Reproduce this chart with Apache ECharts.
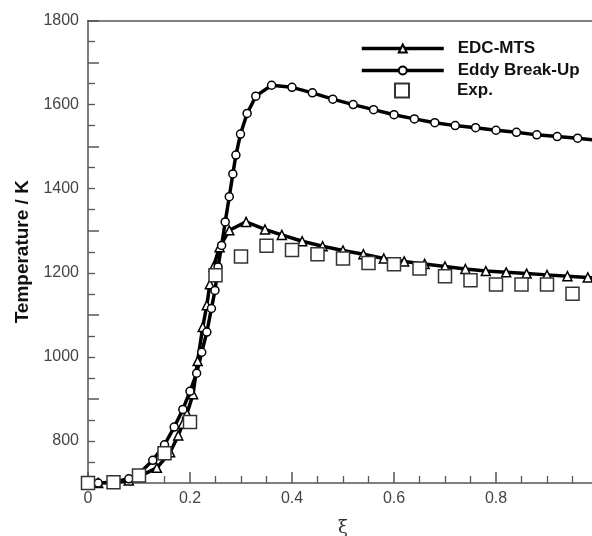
<!DOCTYPE html>
<html><head><meta charset="utf-8">
<script src="https://cdn.jsdelivr.net/npm/echarts@6/dist/echarts.min.js"></script>
<style>html,body{margin:0;padding:0;background:#fff}#c{width:592px;height:536px}</style>
</head><body><div id="c"></div>
<script>
// ---- data ----
const xiEBU = [0, 0.02, 0.05, 0.08, 0.10, 0.127, 0.15, 0.169, 0.186, 0.20, 0.213, 0.223, 0.233, 0.242, 0.249, 0.255, 0.262, 0.269, 0.277, 0.284, 0.290, 0.299, 0.312, 0.329, 0.36, 0.40, 0.44, 0.48, 0.52, 0.56, 0.60, 0.64, 0.68, 0.72, 0.76, 0.80, 0.84, 0.88, 0.92, 0.96, 1.0];
const tEBU  = [700, 700, 702, 710, 722, 754, 791, 833, 875, 918, 961, 1011, 1059, 1115, 1158, 1214, 1265, 1321, 1381, 1435, 1480, 1530, 1579, 1620, 1646, 1641, 1628, 1613, 1600, 1588, 1576, 1566, 1557, 1550, 1545, 1539, 1534, 1528, 1524, 1520, 1515];
const xiEDC = [0, 0.02, 0.05, 0.08, 0.10, 0.135, 0.161, 0.177, 0.186, 0.194, 0.206, 0.215, 0.225, 0.233, 0.239, 0.246, 0.258, 0.277, 0.31, 0.347, 0.38, 0.42, 0.46, 0.50, 0.54, 0.58, 0.62, 0.66, 0.70, 0.74, 0.78, 0.82, 0.86, 0.90, 0.94, 0.98, 1.0];
const tEDC  = [700, 700, 701, 706, 715, 736, 773, 813, 841, 865, 911, 990, 1071, 1123, 1173, 1214, 1261, 1301, 1321, 1303, 1290, 1275, 1263, 1253, 1244, 1234, 1227, 1221, 1215, 1209, 1204, 1201, 1198, 1195, 1192, 1189, 1187];
const xiExp = [0, 0.05, 0.10, 0.15, 0.20, 0.25, 0.30, 0.35, 0.40, 0.45, 0.50, 0.55, 0.60, 0.65, 0.70, 0.75, 0.80, 0.85, 0.90, 0.95];
const tExp  = [700, 702, 718, 771, 845, 1194, 1239, 1264, 1254, 1244, 1234, 1223, 1220, 1210, 1192, 1182, 1172, 1172, 1172, 1150];
const seriesNames = ['EDC-MTS', 'Eddy Break-Up', 'Exp.'];
const xAxisTitle = 'ξ';
const yAxisTitle = 'Temperature / K';

const pairs = (xs, ys) => xs.map((x, i) => [x, ys[i]]);
const FONT = '"Liberation Sans", Arial, Helvetica, sans-serif';
const axisGrey = '#555';

const chart = echarts.init(document.getElementById('c'), null, {renderer: 'canvas'});
const legendText = {fontFamily: FONT, fontWeight: 'bold', fontSize: 17, color: '#111'};
chart.setOption({
  animation: false,
  backgroundColor: '#fff',
  grid: {left: 88, top: 20.5, width: 510, height: 462.5, containLabel: false, outerBoundsMode: 'none'},
  legend: [
    {data: [seriesNames[0]], left: 360, top: 40, padding: 0, itemWidth: 82, itemHeight: 10,
     lineStyle: {width: 3.5, color: '#000'},
     textStyle: Object.assign({padding: [0, 0, 0, 9]}, legendText)},
    {data: [seriesNames[1]], left: 360, top: 62, padding: 0, itemWidth: 82, itemHeight: 10,
     lineStyle: {width: 3.5, color: '#000'},
     textStyle: Object.assign({padding: [0, 0, 0, 9]}, legendText)},
    {data: [{name: seriesNames[2], icon: 'rect'}], left: 394, top: 82, padding: 0, itemWidth: 14, itemHeight: 14,
     textStyle: Object.assign({padding: [0, 0, 0, 43]}, legendText)}
  ],
  xAxis: [{
    type: 'value', min: 0, max: 1, interval: 0.2, position: 'bottom',
    name: xAxisTitle, nameLocation: 'middle', nameGap: 36,
    nameTextStyle: {fontFamily: '"DejaVu Serif", serif', fontSize: 18, color: '#333'},
    axisLine: {show: true, onZero: false, lineStyle: {color: axisGrey, width: 1.5}},
    axisTick: {show: true, inside: true, length: 11, lineStyle: {color: axisGrey, width: 1.5}},
    minorTick: {show: true, splitNumber: 4, length: 7, lineStyle: {color: axisGrey, width: 1.3}},
    splitLine: {show: false},
    axisLabel: {fontFamily: FONT, fontSize: 16, color: '#444', margin: 8, formatter: v => String(v)}
  }, {
    type: 'value', min: 0, max: 1, position: 'top',
    axisLine: {show: true, onZero: false, lineStyle: {color: axisGrey, width: 1.5}},
    axisTick: {show: false}, axisLabel: {show: false}, splitLine: {show: false}
  }],
  yAxis: {
    type: 'value', min: 700, max: 1800, interval: 200,
    name: yAxisTitle, nameLocation: 'middle', nameGap: 53, nameRotate: 90,
    nameTextStyle: {fontFamily: FONT, fontWeight: 'bold', fontSize: 19, color: '#111'},
    axisLine: {show: true, onZero: false, lineStyle: {color: axisGrey, width: 1.5}},
    axisTick: {show: true, inside: true, length: 11, lineStyle: {color: axisGrey, width: 1.5}},
    minorTick: {show: true, splitNumber: 4, length: 7, lineStyle: {color: axisGrey, width: 1.3}},
    splitLine: {show: false},
    axisLabel: {fontFamily: FONT, fontSize: 16, color: '#444', margin: 9,
      formatter: v => String(v),
      customValues: [800, 1000, 1200, 1400, 1600, 1800]}
  },
  series: [
    {name: seriesNames[0], type: 'line', data: pairs(xiEDC, tEDC), symbol: 'triangle', symbolSize: 9,
     lineStyle: {color: '#000', width: 3.5}, itemStyle: {color: '#fff', borderColor: '#000', borderWidth: 1.5},
     z: 3, clip: true},
    {name: seriesNames[1], type: 'line', data: pairs(xiEBU, tEBU), symbol: 'circle', symbolSize: 8,
     lineStyle: {color: '#000', width: 3.5}, itemStyle: {color: '#fff', borderColor: '#000', borderWidth: 1.5},
     z: 3, clip: true},
    {name: seriesNames[2], type: 'scatter', data: pairs(xiExp, tExp), symbol: 'rect', symbolSize: 13,
     itemStyle: {color: '#fff', borderColor: '#333', borderWidth: 1.5, opacity: 1}, z: 4, clip: false}
  ]
});
</script></body></html>
